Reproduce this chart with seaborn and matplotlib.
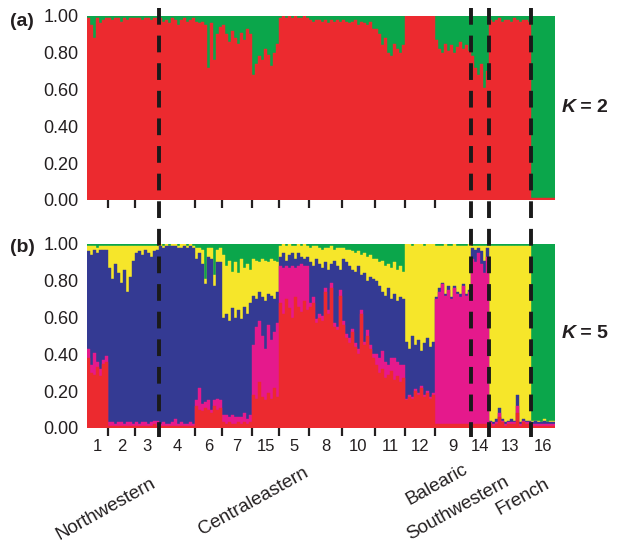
import matplotlib
matplotlib.use("Agg")
import matplotlib.pyplot as plt
import seaborn as sns
import numpy as np
import pandas as pd
from matplotlib.lines import Line2D
from matplotlib.transforms import blended_transform_factory

# ---------------- data ----------------
POP_LABELS = ["1", "2", "3", "4", "6", "7", "15", "5", "8", "10", "11", "12", "9", "14", "13", "16"]
POP_SIZES = [7, 9, 8, 12, 9, 10, 9, 10, 11, 11, 10, 10, 12, 6, 14, 8]
DASHED_AFTER = ["3", "9", "14", "13"]          # group boundaries (dashed lines)
REGIONS = ["Northwestern", "Centraleastern", "Balearic", "Southwestern", "French"]
Y_TICKS = [0.0, 0.2, 0.4, 0.6, 0.8, 1.0]
Y_TICK_LABELS = ["0.00", "0.20", "0.40", "0.60", "0.80", "1.00"]

# K = 2 membership (%), per individual, populations in POP_LABELS order
K2_RED = [99, 95, 88, 99, 96, 98, 99,
          99, 98, 99, 99, 97, 99, 98, 99, 99,
          99, 99, 98, 99, 99, 98, 99, 99,
          99, 97, 98, 96, 99, 98, 95, 98, 99, 97, 98, 99,
          97, 96, 97, 95, 72, 96, 76, 90, 94,
          95, 90, 86, 92, 88, 85, 91, 87, 93, 90,
          68, 74, 78, 76, 82, 79, 73, 80, 85,
          99, 100, 99, 100, 99, 100, 99, 99, 100, 99,
          98, 97, 98, 98, 97, 98, 96, 98, 97, 98, 97,
          98, 97, 96, 97, 98, 95, 97, 96, 95, 97, 93,
          93, 90, 84, 88, 80, 78, 85, 82, 80, 84,
          100, 100, 100, 100, 100, 100, 100, 100, 100, 100,
          87, 82, 80, 85, 81, 84, 80, 83, 86, 82, 84, 81,
          78, 72, 68, 74, 61, 70,
          98, 97, 98, 99, 97, 98, 98, 97, 99, 98, 97, 98, 98, 97,
          1, 1, 1, 1, 1, 1, 1, 1]
K2_GREEN = [1, 5, 12, 1, 4, 2, 1,
            1, 2, 1, 1, 3, 1, 2, 1, 1,
            1, 1, 2, 1, 1, 2, 1, 1,
            1, 3, 2, 4, 1, 2, 5, 2, 1, 3, 2, 1,
            3, 4, 3, 5, 28, 4, 24, 10, 6,
            5, 10, 14, 8, 12, 15, 9, 13, 7, 10,
            32, 26, 22, 24, 18, 21, 27, 20, 15,
            1, 0, 1, 0, 1, 0, 1, 1, 0, 1,
            2, 3, 2, 2, 3, 2, 4, 2, 3, 2, 3,
            2, 3, 4, 3, 2, 5, 3, 4, 5, 3, 7,
            7, 10, 16, 12, 20, 22, 15, 18, 20, 16,
            0, 0, 0, 0, 0, 0, 0, 0, 0, 0,
            13, 18, 20, 15, 19, 16, 20, 17, 14, 18, 16, 19,
            22, 28, 32, 26, 39, 30,
            2, 3, 2, 1, 3, 2, 2, 3, 1, 2, 3, 2, 2, 3,
            99, 99, 99, 99, 99, 99, 99, 99]

# K = 5 membership (%), stacking order red, magenta, blue, yellow, green
K5_RED = [38, 30, 29, 33, 28, 35, 36,
          1, 1, 1, 1, 1, 1, 1, 1, 1,
          1, 1, 1, 1, 1, 1, 2, 1,
          1, 1, 1, 1, 1, 1, 1, 1, 1, 1, 1, 1,
          12, 10, 9, 11, 10, 8, 12, 10, 11,
          3, 2, 3, 2, 2, 3, 2, 3, 2, 3,
          18, 16, 25, 17, 15, 19, 16, 22, 17,
          68, 62, 70, 65, 60, 71, 66, 63, 69, 64,
          66, 68, 57, 60, 58, 74, 62, 76, 55, 53, 72,
          56, 49, 46, 52, 44, 40, 62, 45, 50, 43, 38,
          34, 30, 32, 27, 29, 31, 26, 28, 25, 27,
          15, 17, 16, 20, 18, 22, 17, 19, 16, 18,
          2, 2, 2, 2, 2, 2, 2, 2, 2, 2, 2, 2,
          2, 2, 2, 2, 2, 2,
          2, 1, 2, 6, 3, 1, 2, 2, 2, 8, 1, 3, 2, 2,
          1, 1, 1, 1, 1, 1, 1, 1]
K5_MAGENTA = [5, 4, 12, 3, 4, 2, 3,
              2, 2, 1, 2, 2, 1, 2, 2, 1,
              2, 1, 2, 2, 1, 2, 2, 3,
              1, 2, 1, 1, 2, 4, 1, 2, 1, 1, 2, 1,
              3, 12, 4, 3, 5, 2, 3, 6, 4,
              4, 5, 3, 5, 4, 3, 4, 5, 3, 4,
              27, 39, 33, 33, 28, 37, 32, 30, 40,
              20, 25, 18, 22, 28, 16, 22, 26, 19, 24,
              2, 3, 2, 2, 3, 2, 2, 3, 2, 2, 3,
              2, 2, 3, 2, 2, 3, 2, 2, 3, 2, 2,
              6, 8, 10, 9, 5, 7, 12, 8, 9, 7,
              1, 1, 1, 1, 1, 1, 1, 1, 1, 1,
              68, 72, 76, 70, 73, 68, 74, 71, 69, 75, 70, 72,
              90, 88, 93, 87, 82, 91,
              1, 1, 1, 2, 1, 1, 1, 1, 1, 4, 1, 1, 1, 1,
              1, 1, 1, 1, 1, 1, 1, 1]
K5_BLUE = [53, 60, 56, 59, 65, 60, 58,
           84, 78, 87, 81, 76, 84, 71, 79, 89,
           92, 94, 91, 94, 93, 90, 92, 93,
           97, 95, 97, 97, 96, 94, 96, 95, 97, 96, 96, 96,
           77, 73, 76, 64, 78, 82, 62, 74, 75,
           53, 55, 52, 58, 54, 58, 53, 58, 57, 61,
           27, 15, 16, 21, 26, 17, 24, 18, 17,
           5, 8, 3, 7, 7, 5, 7, 4, 4, 5,
           22, 17, 33, 27, 26, 14, 22, 10, 34, 33, 11,
           34, 39, 39, 32, 39, 45, 19, 37, 27, 37, 41,
           40, 39, 32, 36, 42, 32, 35, 33, 37, 36,
           31, 25, 33, 24, 29, 19, 28, 29, 27, 28,
           1, 2, 1, 1, 2, 1, 1, 1, 2, 1, 1, 1,
           6, 7, 3, 7, 7, 5,
           1, 1, 2, 3, 1, 1, 1, 2, 1, 6, 1, 1, 1, 1,
           1, 2, 1, 1, 2, 1, 1, 1]
K5_YELLOW = [3, 5, 2, 3, 2, 2, 2,
             12, 18, 10, 15, 20, 13, 25, 17, 8,
             4, 3, 5, 2, 4, 6, 3, 2,
             1, 1, 1, 0, 1, 1, 1, 2, 1, 1, 1, 1,
             6, 3, 8, 3, 5, 6, 6, 7, 8,
             34, 26, 33, 20, 30, 20, 33, 21, 27, 18,
             20, 21, 16, 21, 22, 17, 20, 21, 16,
             6, 5, 8, 6, 4, 7, 5, 6, 8, 6,
             8, 11, 7, 9, 10, 8, 12, 10, 6, 10, 12,
             6, 7, 9, 10, 10, 8, 11, 11, 13, 12, 11,
             12, 13, 17, 16, 13, 17, 17, 17, 17, 15,
             53, 57, 49, 55, 52, 58, 53, 51, 56, 53,
             28, 23, 20, 27, 22, 28, 23, 25, 26, 21, 26, 25,
             1, 2, 1, 3, 8, 1,
             95, 96, 94, 88, 94, 96, 95, 94, 95, 81, 96, 94, 95, 95,
             1, 0, 1, 0, 1, 0, 1, 1]
K5_GREEN = [1, 1, 1, 2, 1, 1, 1,
            1, 1, 1, 1, 1, 1, 1, 1, 1,
            1, 1, 1, 1, 1, 1, 1, 1,
            0, 1, 0, 1, 0, 0, 1, 0, 0, 1, 0, 1,
            2, 2, 3, 19, 2, 2, 17, 3, 2,
            6, 12, 9, 15, 10, 16, 8, 13, 11, 14,
            8, 9, 10, 8, 9, 10, 8, 9, 10,
            1, 0, 1, 0, 1, 1, 0, 1, 0, 1,
            2, 1, 1, 2, 3, 2, 2, 1, 3, 2, 2,
            2, 3, 3, 4, 5, 4, 6, 5, 7, 6, 8,
            8, 10, 9, 12, 11, 13, 10, 14, 12, 15,
            0, 0, 1, 0, 0, 0, 1, 0, 0, 0,
            1, 1, 1, 0, 1, 1, 0, 1, 1, 1, 1, 0,
            1, 1, 1, 1, 1, 1,
            1, 1, 1, 1, 1, 1, 1, 1, 1, 1, 1, 1, 1, 1,
            96, 96, 96, 97, 95, 97, 96, 96]

RED = "#EC2A2F"
MAGENTA = "#E5198C"
BLUE = "#343A93"
YELLOW = "#F6E62A"
GREEN = "#0BA64B"
TXT = "#231F20"

# ---------------- figure ----------------
sns.set_theme(style="white")
plt.rcParams["font.family"] = ["Liberation Sans", "DejaVu Sans"]

W, H = 619, 545
fig = plt.figure(figsize=(W / 100, H / 100), dpi=100)
ax_a = fig.add_axes([87 / W, 1 - 200 / H, 468 / W, 184 / H])
ax_b = fig.add_axes([87 / W, 1 - 428 / H, 468 / W, 184 / H])

n_ind = sum(POP_SIZES)
cum_sizes = np.cumsum(POP_SIZES)
bounds = cum_sizes[:-1] - 0.5
centers = cum_sizes - np.array(POP_SIZES) / 2 - 0.5
dashed_pos = [cum_sizes[POP_LABELS.index(p)] - 0.5 for p in DASHED_AFTER]
tick_pos = [b for b in bounds if b not in dashed_pos]


def structure(ax, comps, colors):
    idx = np.arange(n_ind)
    arrs = [np.array(c, dtype=float) / 100.0 for c in comps]
    cum = np.cumsum(np.vstack(arrs), axis=0)
    df = pd.DataFrame({"ind": idx})
    for k in range(len(arrs) - 1, -1, -1):
        df["top"] = cum[k]
        sns.barplot(data=df, x="ind", y="top", color=colors[k], width=1.0,
                    saturation=1, linewidth=0.3, edgecolor=colors[k],
                    errorbar=None, ax=ax)
    ax.set_xlim(-0.5, n_ind - 0.5)
    ax.set_ylim(0, 1)
    ax.set_yticks(Y_TICKS)
    ax.set_yticklabels(Y_TICK_LABELS)
    ax.set_xlabel("")
    ax.set_ylabel("")
    sns.despine(ax=ax, left=True, bottom=True, top=True, right=True)
    ax.tick_params(axis="y", length=0, pad=6, labelsize=13, labelcolor=TXT)
    ax.set_xticks(tick_pos)
    ax.set_xticklabels([""] * len(tick_pos))
    ax.tick_params(axis="x", which="major", bottom=True, length=6, width=1.6,
                   color=TXT, direction="out")


structure(ax_a, [K2_RED, K2_GREEN], [RED, GREEN])
structure(ax_b, [K5_RED, K5_MAGENTA, K5_BLUE, K5_YELLOW, K5_GREEN],
          [RED, MAGENTA, BLUE, YELLOW, GREEN])

ax_b.set_xticks(centers, minor=True)
ax_b.set_xticklabels(POP_LABELS, minor=True)
ax_b.tick_params(axis="x", which="minor", bottom=True, length=0, pad=8,
                 labelsize=12, labelcolor=TXT)

# dashed group separators spanning both panels
trans = blended_transform_factory(ax_a.transData, fig.transFigure)
for x in dashed_pos:
    fig.add_artist(Line2D([x, x], [1 - 8 / H, 1 - 437 / H], transform=trans,
                          color="#1a1a1a", lw=2.8, dashes=(4.3, 2.8),
                          solid_capstyle="butt", dash_capstyle="butt"))

# panel letters and K labels
fig.text(10 / W, 1 - 21 / H, "(a)", fontsize=14, fontweight="bold",
         ha="left", va="center", color=TXT)
fig.text(10 / W, 1 - 248 / H, "(b)", fontsize=14, fontweight="bold",
         ha="left", va="center", color=TXT)
for ytxt, kval in [(108, "2"), (334, "5")]:
    fig.text(562 / W, 1 - ytxt / H, "K", fontsize=14, fontweight="bold",
             style="italic", ha="left", va="center", color=TXT)
    fig.text(575 / W, 1 - ytxt / H, " = " + kval, fontsize=14,
             fontweight="bold", ha="left", va="center", color=TXT)

# region labels
region_xy = [(106, 509), (253, 501), (437, 485), (458, 508), (523, 497)]
for name, (x, y) in zip(REGIONS, region_xy):
    fig.text(x / W, 1 - y / H, name, rotation=29, fontsize=13.5, ha="center",
             va="center", rotation_mode="anchor", color=TXT)

fig.savefig("out.png", dpi=100)
